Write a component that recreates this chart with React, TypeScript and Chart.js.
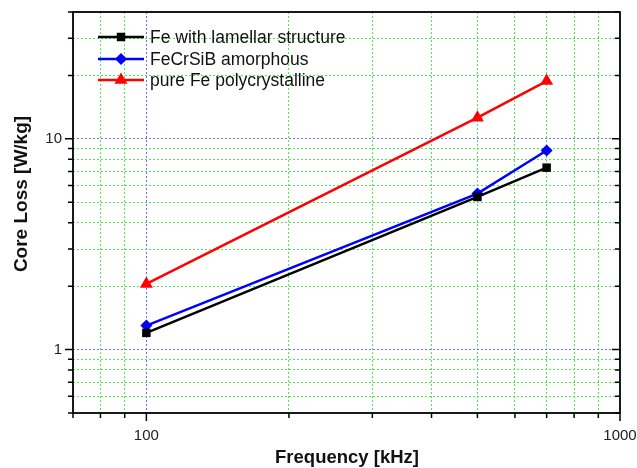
import React, { useEffect, useRef } from 'react';
import { Chart, registerables } from 'chart.js';

Chart.register(...registerables);

// ---- data ----
const frequencies = [100, 500, 700];
const feLamellar = [1.2, 5.3, 7.3];
const feCrSiB = [1.3, 5.5, 8.8];
const pureFe = [2.05, 12.6, 18.8];
const seriesNames = ['Fe with lamellar structure', 'FeCrSiB amorphous', 'pure Fe polycrystalline'];
const seriesColors = ['#000000', '#0000ff', '#ff0000'];
const seriesMarkers = ['rect', 'rectRot', 'triangle'];
const xTicks = [70, 80, 90, 100, 200, 300, 400, 500, 600, 700, 800, 900, 1000];
const yTicks = [0.5, 0.6, 0.7, 0.8, 0.9, 1, 2, 3, 4, 5, 6, 7, 8, 9, 10, 20, 30, 40];
const xLabels = [100, 1000];
const yLabels = [1, 10];
const xRange = [70, 1000];
const yRange = [0.5, 40];
const xTitle = 'Frequency [kHz]';
const yTitle = 'Core Loss [W/kg]';

const GREEN = 'rgb(80,232,80)';
const BLUE = 'rgb(110,110,255)';
const FONT = '"Liberation Sans", Arial, sans-serif';

const near = (list: number[], v: number) => list.some((m) => Math.abs(m - v) < 1e-6 * Math.max(1, Math.abs(v)));

const gridColor = (majors: number[], edges: number[]) => (ctx: any) => {
  const v = ctx.tick ? Number(ctx.tick.value) : NaN;
  if (isNaN(v)) return 'transparent';
  if (near(edges, v)) return 'transparent';
  if (near(majors, v)) return BLUE;
  return GREEN;
};

function drawMarker(ctx: CanvasRenderingContext2D, style: string, x: number, y: number, r: number) {
  ctx.beginPath();
  if (style === 'rect') {
    const s = Math.SQRT1_2 * r;
    ctx.rect(x - s, y - s, 2 * s, 2 * s);
  } else if (style === 'rectRot') {
    ctx.moveTo(x - r, y);
    ctx.lineTo(x, y - r);
    ctx.lineTo(x + r, y);
    ctx.lineTo(x, y + r);
    ctx.closePath();
  } else {
    ctx.moveTo(x, y - r);
    ctx.lineTo(x + Math.sin((2 * Math.PI) / 3) * r, y - Math.cos((2 * Math.PI) / 3) * r);
    ctx.lineTo(x + Math.sin((4 * Math.PI) / 3) * r, y - Math.cos((4 * Math.PI) / 3) * r);
    ctx.closePath();
  }
  ctx.fill();
}

const framePlugin = {
  id: 'frameTicks',
  afterDraw(chart: any) {
    const { ctx, chartArea: a, scales } = chart;
    const xs = scales.x;
    const ys = scales.y;
    ctx.save();
    ctx.strokeStyle = '#000';
    ctx.lineWidth = 1.5;
    ctx.setLineDash([]);
    xTicks.forEach((v) => {
      const px = xs.getPixelForValue(v);
      const len = xLabels.includes(v) ? 8 : 5;
      ctx.beginPath();
      ctx.moveTo(px, a.bottom);
      ctx.lineTo(px, a.bottom + len);
      ctx.stroke();
    });
    yTicks.forEach((v) => {
      const py = ys.getPixelForValue(v);
      const len = yLabels.includes(v) ? 8 : 5;
      ctx.beginPath();
      ctx.moveTo(a.left, py);
      ctx.lineTo(a.left - len, py);
      ctx.moveTo(a.right, py);
      ctx.lineTo(a.right - len, py);
      ctx.stroke();
    });
    ctx.lineWidth = 1.8;
    ctx.strokeRect(a.left, a.top, a.right - a.left, a.bottom - a.top);

    // axis titles
    ctx.fillStyle = '#111';
    ctx.textAlign = 'center';
    ctx.textBaseline = 'middle';
    ctx.font = `bold 18.5px ${FONT}`;
    ctx.fillText(xTitle, 347, 458);
    ctx.save();
    ctx.translate(22, 194);
    ctx.rotate(-Math.PI / 2);
    ctx.font = `bold 19px ${FONT}`;
    ctx.fillText(yTitle, 0, 0);
    ctx.restore();

    // legend
    const rowY = [37, 59, 80];
    ctx.font = `17.5px ${FONT}`;
    ctx.textAlign = 'left';
    chart.data.datasets.forEach((ds: any, i: number) => {
      const y = rowY[i];
      ctx.strokeStyle = ds.borderColor;
      ctx.lineWidth = 2.5;
      ctx.beginPath();
      ctx.moveTo(98, y);
      ctx.lineTo(144, y);
      ctx.stroke();
      ctx.fillStyle = ds.backgroundColor;
      drawMarker(ctx, seriesMarkers[i], 121, y, ds.pointRadius);
      ctx.fillStyle = '#111';
      ctx.fillText(seriesNames[i], 150, y + 1);
    });
    ctx.restore();
  },
};

export default function App() {
  const ref = useRef<HTMLCanvasElement | null>(null);

  useEffect(() => {
    if (!ref.current) return;
    const series = [feLamellar, feCrSiB, pureFe];
    const radii = [6, 6, 7.5];
    const chart = new Chart(ref.current, {
      type: 'line',
      data: {
        datasets: series.map((vals, i) => ({
          label: seriesNames[i],
          data: frequencies.map((f, j) => ({ x: f, y: vals[j] })),
          borderColor: seriesColors[i],
          backgroundColor: seriesColors[i],
          borderWidth: 2.5,
          pointStyle: seriesMarkers[i] as any,
          pointRadius: radii[i],
          pointHoverRadius: radii[i],
          pointBorderWidth: 0,
          tension: 0,
          fill: false,
        })),
      },
      plugins: [framePlugin],
      options: {
        responsive: false,
        animation: false,
        devicePixelRatio: 1,
        layout: { padding: { top: 12, right: 17, left: 0, bottom: 0 } },
        plugins: {
          legend: { display: false },
          tooltip: { enabled: false },
          title: { display: false },
        },
        scales: {
          x: {
            type: 'logarithmic',
            min: xRange[0],
            max: xRange[1],
            afterBuildTicks: (scale: any) => {
              scale.ticks = xTicks.map((v) => ({ value: v, major: xLabels.includes(v) }));
            },
            afterFit: (scale: any) => {
              scale.height = 55;
              scale.paddingRight = 0;
              scale.paddingLeft = 0;
            },
            ticks: {
              autoSkip: false,
              maxRotation: 0,
              padding: 6,
              color: '#222',
              font: { family: FONT, size: 15 },
              callback: (v: any) => (xLabels.includes(Number(v)) ? String(v) : ''),
            },
            grid: {
              color: gridColor(xLabels, xRange),
              lineWidth: 1,
              drawTicks: true,
              tickLength: 8,
              tickColor: 'transparent',
            },
            border: { display: false, dash: [2, 2] },
          },
          y: {
            type: 'logarithmic',
            min: yRange[0],
            max: yRange[1],
            afterBuildTicks: (scale: any) => {
              scale.ticks = yTicks.map((v) => ({ value: v, major: yLabels.includes(v) }));
            },
            afterFit: (scale: any) => {
              scale.width = 73;
              scale.paddingTop = 0;
              scale.paddingBottom = 0;
            },
            ticks: {
              autoSkip: false,
              padding: 3,
              color: '#222',
              font: { family: FONT, size: 15 },
              callback: (v: any) => (yLabels.includes(Number(v)) ? String(v) : ''),
            },
            grid: {
              color: gridColor(yLabels, yRange),
              lineWidth: 1,
              drawTicks: true,
              tickLength: 8,
              tickColor: 'transparent',
            },
            border: { display: false, dash: [2, 2] },
          },
        },
      } as any,
    });
    return () => chart.destroy();
  }, []);

  return (
    <div style={{ position: 'absolute', left: 0, top: 0, width: 637, height: 468, background: '#fff' }}>
      <canvas ref={ref} width={637} height={468} style={{ display: 'block' }} />
    </div>
  );
}
